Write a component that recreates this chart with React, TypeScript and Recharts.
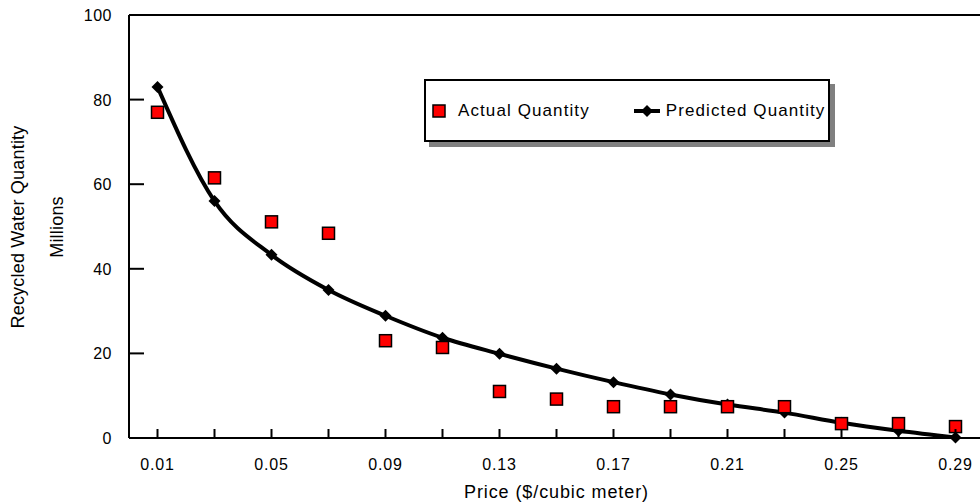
import { Line, LineChart, ReferenceLine, XAxis, YAxis } from 'recharts';

const prices = ['0.01', '0.03', '0.05', '0.07', '0.09', '0.11', '0.13', '0.15', '0.17', '0.19', '0.21', '0.23', '0.25', '0.27', '0.29'];
const actual = [77, 61.5, 51.1, 48.4, 23, 21.4, 11, 9.2, 7.4, 7.4, 7.4, 7.4, 3.4, 3.4, 2.7];
const predicted = [83, 56, 43.3, 35, 28.9, 23.7, 19.9, 16.4, 13.2, 10.3, 7.9, 6, 3.6, 1.7, 0.1];
const yTicks = [0, 20, 40, 60, 80, 100];

const data = prices.map((p, i) => ({ price: p, actual: actual[i], predicted: predicted[i] }));

const FONT = '"Liberation Sans", Arial, sans-serif';

function Square(props: any) {
  const { cx, cy } = props;
  if (cx == null || cy == null) return null;
  return <rect x={cx - 6} y={cy - 6} width={12} height={12} fill="#ff0000" stroke="#000" strokeWidth={1.5} />;
}

function Diamond(props: any) {
  const { cx, cy } = props;
  if (cx == null || cy == null) return null;
  return <path d={`M${cx},${cy - 6} L${cx + 6},${cy} L${cx},${cy + 6} L${cx - 6},${cy} Z`} fill="#000" />;
}

function YTick(props: any) {
  const { x, y, payload } = props;
  return (
    <g>
      <line x1={x} x2={x + 15} y1={y} y2={y} stroke="#000" strokeWidth={2} />
      <text x={x - 17} y={y + 6} textAnchor="end" fontSize={16} fontFamily={FONT} fill="#000" letterSpacing={0.5}>
        {payload.value}
      </text>
    </g>
  );
}

function XTick(props: any) {
  const { x, y, payload, index } = props;
  return (
    <g>
      <line x1={x} x2={x} y1={y} y2={y - 9} stroke="#000" strokeWidth={2} />
      {index % 2 === 0 ? (
        <text x={x} y={y + 32} textAnchor="middle" fontSize={16} fontFamily={FONT} fill="#000" letterSpacing={0.8}>
          {payload.value}
        </text>
      ) : null}
    </g>
  );
}

function LegendBox() {
  return (
    <div
      style={{
        position: 'absolute',
        left: 424,
        top: 79,
        width: 402,
        height: 59,
        border: '2px solid #000',
        background: '#fff',
        boxShadow: '5px 5px 0 #808080',
        display: 'flex',
        alignItems: 'center',
        fontFamily: FONT,
        fontSize: 17,
        letterSpacing: 1.1,
        color: '#000',
      }}
    >
      <svg width={14} height={14} style={{ marginLeft: 6 }}>
        <rect x={1} y={1} width={12} height={12} fill="#ff0000" stroke="#000" strokeWidth={1.5} />
      </svg>
      <span style={{ marginLeft: 12 }}>Actual Quantity</span>
      <svg width={26} height={12} style={{ marginLeft: 44 }}>
        <line x1={0} x2={26} y1={6} y2={6} stroke="#000" strokeWidth={4} />
        <path d="M13,0 L19,6 L13,12 L7,6 Z" fill="#000" />
      </svg>
      <span style={{ marginLeft: 6 }}>Predicted Quantity</span>
    </div>
  );
}

export default function App() {
  return (
    <div style={{ position: 'absolute', left: 0, top: 0, width: 980, height: 502, overflow: 'hidden', background: '#fff' }}>
      <LineChart width={984} height={502} data={data} margin={{ top: 15, right: 0, bottom: 0, left: 0 }}>
        <XAxis
          dataKey="price"
          scale="band"
          interval={0}
          height={64}
          tickSize={0}
          tickMargin={0}
          tick={<XTick />}
          axisLine={{ stroke: '#000', strokeWidth: 2 }}
          tickLine={false}
          label={{
            value: 'Price ($/cubic meter)',
            position: 'insideBottom',
            offset: 4,
            fontSize: 18,
            letterSpacing: 0.9,
            fontFamily: FONT,
            fill: '#000',
          }}
        />
        <YAxis
          domain={[0, 100]}
          ticks={yTicks}
          width={129}
          tickSize={0}
          tickMargin={0}
          tick={<YTick />}
          axisLine={{ stroke: '#000', strokeWidth: 2 }}
          tickLine={false}
          label={{
            content: () => (
              <g fontFamily={FONT} fontSize={18} fill="#000" letterSpacing={0.2}>
                <text x={24} y={227} textAnchor="middle" transform="rotate(-90 24 227)">
                  Recycled Water Quantity
                </text>
                <text x={63} y={227} textAnchor="middle" transform="rotate(-90 63 227)">
                  Millions
                </text>
              </g>
            ),
          }}
        />
        <ReferenceLine y={100} stroke="#000" strokeWidth={2} />
        <Line
          dataKey="predicted"
          type="monotone"
          stroke="#000"
          strokeWidth={4}
          dot={<Diamond />}
          activeDot={false}
          isAnimationActive={false}
        />
        <Line
          dataKey="actual"
          stroke="none"
          dot={<Square />}
          activeDot={false}
          isAnimationActive={false}
        />
      </LineChart>
      <LegendBox />
    </div>
  );
}
